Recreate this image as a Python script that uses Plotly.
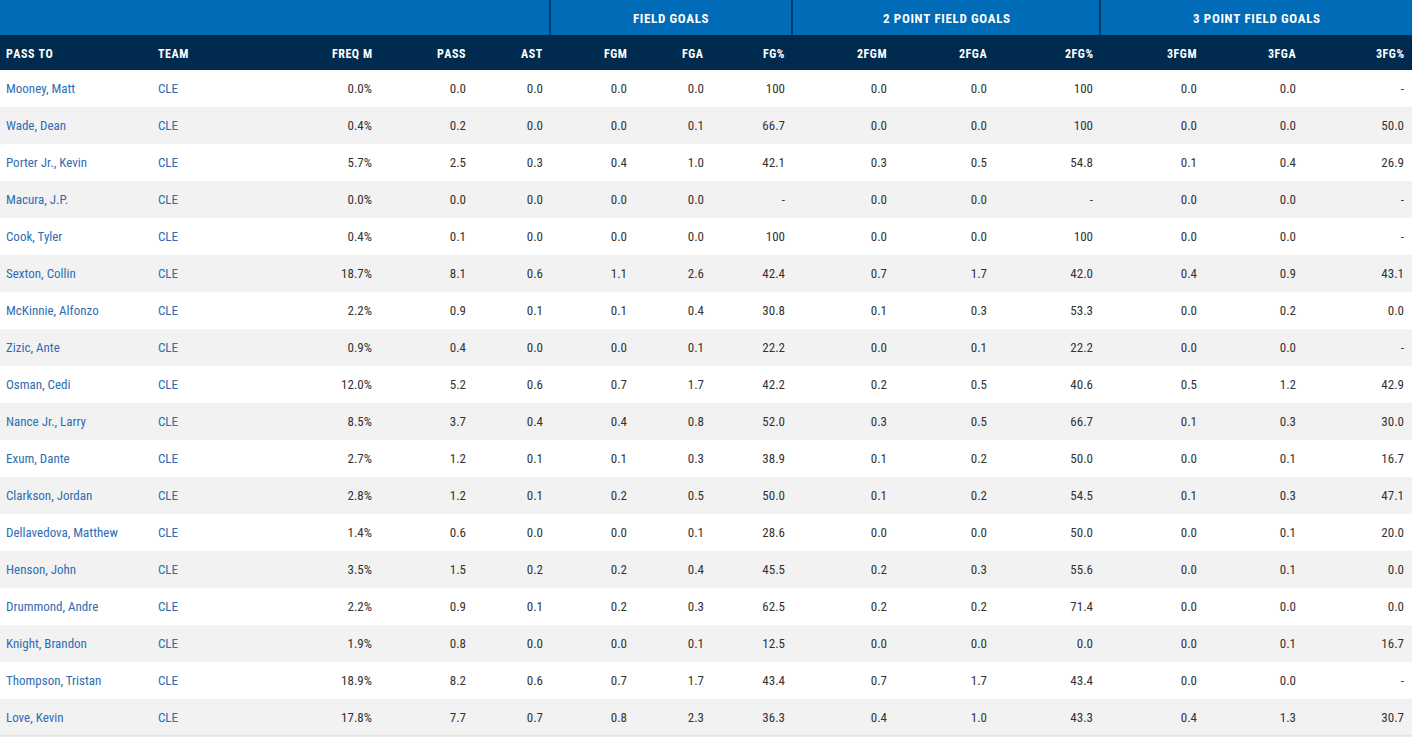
import plotly.graph_objects as go

players = ["Mooney, Matt", "Wade, Dean", "Porter Jr., Kevin", "Macura, J.P.", "Cook, Tyler",
           "Sexton, Collin", "McKinnie, Alfonzo", "Zizic, Ante", "Osman, Cedi", "Nance Jr., Larry",
           "Exum, Dante", "Clarkson, Jordan", "Dellavedova, Matthew", "Henson, John",
           "Drummond, Andre", "Knight, Brandon", "Thompson, Tristan", "Love, Kevin"]
teams = ["CLE"] * 18
freq = [0.0, 0.4, 5.7, 0.0, 0.4, 18.7, 2.2, 0.9, 12.0, 8.5, 2.7, 2.8, 1.4, 3.5, 2.2, 1.9, 18.9, 17.8]
passes = [0.0, 0.2, 2.5, 0.0, 0.1, 8.1, 0.9, 0.4, 5.2, 3.7, 1.2, 1.2, 0.6, 1.5, 0.9, 0.8, 8.2, 7.7]
ast = [0.0, 0.0, 0.3, 0.0, 0.0, 0.6, 0.1, 0.0, 0.6, 0.4, 0.1, 0.1, 0.0, 0.2, 0.1, 0.0, 0.6, 0.7]
fgm = [0.0, 0.0, 0.4, 0.0, 0.0, 1.1, 0.1, 0.0, 0.7, 0.4, 0.1, 0.2, 0.0, 0.2, 0.2, 0.0, 0.7, 0.8]
fga = [0.0, 0.1, 1.0, 0.0, 0.0, 2.6, 0.4, 0.1, 1.7, 0.8, 0.3, 0.5, 0.1, 0.4, 0.3, 0.1, 1.7, 2.3]
fg_pct = [100, 66.7, 42.1, None, 100, 42.4, 30.8, 22.2, 42.2, 52.0, 38.9, 50.0, 28.6, 45.5, 62.5, 12.5, 43.4, 36.3]
fg2m = [0.0, 0.0, 0.3, 0.0, 0.0, 0.7, 0.1, 0.0, 0.2, 0.3, 0.1, 0.1, 0.0, 0.2, 0.2, 0.0, 0.7, 0.4]
fg2a = [0.0, 0.0, 0.5, 0.0, 0.0, 1.7, 0.3, 0.1, 0.5, 0.5, 0.2, 0.2, 0.0, 0.3, 0.2, 0.0, 1.7, 1.0]
fg2_pct = [100, 100, 54.8, None, 100, 42.0, 53.3, 22.2, 40.6, 66.7, 50.0, 54.5, 50.0, 55.6, 71.4, 0.0, 43.4, 43.3]
fg3m = [0.0, 0.0, 0.1, 0.0, 0.0, 0.4, 0.0, 0.0, 0.5, 0.1, 0.0, 0.1, 0.0, 0.0, 0.0, 0.0, 0.0, 0.4]
fg3a = [0.0, 0.0, 0.4, 0.0, 0.0, 0.9, 0.2, 0.0, 1.2, 0.3, 0.1, 0.3, 0.1, 0.1, 0.0, 0.1, 0.0, 1.3]
fg3_pct = [None, 50.0, 26.9, None, None, 43.1, 0.0, None, 42.9, 30.0, 16.7, 47.1, 20.0, 0.0, 0.0, 16.7, None, 30.7]

col_headers = ["PASS TO", "TEAM", "FREQ M", "PASS", "AST", "FGM", "FGA", "FG%",
               "2FGM", "2FGA", "2FG%", "3FGM", "3FGA", "3FG%"]
group_headers = ["", "FIELD GOALS", "2 POINT FIELD GOALS", "3 POINT FIELD GOALS"]

# ---- layout constants (pixels) ----
W, H = 1412, 739
TOP1, TOP2, BODY = 35, 70, 70
ROW_H = 37
TEXT_DY = 1  # text sits 1px below the geometric row centre
N = len(players)
col_anchor = [6, 158, 372, 466, 543, 627, 704, 785, 887, 987, 1093, 1197, 1296, 1404]
col_align = ["left", "left"] + ["right"] * 12
group_edges = [0, 550, 792, 1100, W]

BLUE = "#006bb6"
NAVY = "#002b4e"
STRIPE = "#f2f2f2"
LINK = "#2f6db3"
TXT = "#333333"
FONT = "Roboto Condensed, Roboto, Arial Narrow, sans-serif"


def fmt(v):
    if v is None:
        return "-"
    if v == 100:
        return "100"
    return f"{v:.1f}"


def spaced(s, fs):
    # emulate letter spacing of the header font with tiny hair spaces
    sep = f'<span style="font-size:{fs}px">\u200a</span>'
    return sep.join(s)


columns = [players, teams, [f"{v:.1f}%" for v in freq],
           [fmt(v) for v in passes], [fmt(v) for v in ast],
           [fmt(v) for v in fgm], [fmt(v) for v in fga], [fmt(v) for v in fg_pct],
           [fmt(v) for v in fg2m], [fmt(v) for v in fg2a], [fmt(v) for v in fg2_pct],
           [fmt(v) for v in fg3m], [fmt(v) for v in fg3a], [fmt(v) for v in fg3_pct]]

# y axis in row units: row i text centred at pixel BODY + TEXT_DY + ROW_H*(i+0.5)
off = TEXT_DY / ROW_H
y_top = -(BODY + TEXT_DY) / ROW_H - 0.5
y_bot = (H - BODY - TEXT_DY) / ROW_H - 0.5

fig = go.Figure()
rows = list(range(N))
for ci, vals in enumerate(columns):
    fig.add_trace(go.Scatter(
        x=[col_anchor[ci]] * N, y=rows, text=vals, mode="text",
        textposition="middle right" if col_align[ci] == "left" else "middle left",
        textfont=dict(family=FONT, size=13, color=LINK if ci < 2 else TXT),
        hoverinfo="skip", showlegend=False, cliponaxis=False))

shapes = []
# stripes
for i in rows:
    if i % 2 == 1:
        shapes.append(dict(type="rect", xref="paper", yref="y", x0=0, x1=1,
                           y0=i - 0.5 - off, y1=i + 0.5 - off, fillcolor=STRIPE, line_width=0,
                           layer="below"))
# bottom border
shapes.append(dict(type="line", xref="paper", yref="y", x0=0, x1=1,
                   y0=N - 0.5 - off, y1=N - 0.5 - off,
                   line=dict(color="#d9d9d9", width=1), layer="below"))


def py(p):  # pixel -> paper y
    return 1 - p / H


def px(p):
    return p / W


shapes.append(dict(type="rect", xref="paper", yref="paper", x0=0, x1=1, y0=py(TOP1), y1=1,
                   fillcolor=BLUE, line_width=0, layer="below"))
shapes.append(dict(type="rect", xref="paper", yref="paper", x0=0, x1=1, y0=py(TOP2), y1=py(TOP1),
                   fillcolor=NAVY, line_width=0, layer="below"))
for e in group_edges[1:-1]:
    shapes.append(dict(type="line", xref="paper", yref="paper", x0=px(e), x1=px(e), y0=py(TOP1), y1=1,
                       line=dict(color=NAVY, width=1.5), layer="below"))

annotations = []
for gi, g in enumerate(group_headers):
    if g:
        annotations.append(dict(text=f"<b>{spaced(g, 6)}</b>", xref="paper", yref="paper",
                                x=px((group_edges[gi] + group_edges[gi + 1]) / 2), y=py(TOP1 / 2),
                                xanchor="center", yanchor="middle", showarrow=False, yshift=-1,
                                font=dict(family=FONT, size=13, color="white")))
for ci, h in enumerate(col_headers):
    annotations.append(dict(text=f"<b>{spaced(h, 5)}</b>", xref="x", yref="paper",
                            x=col_anchor[ci], y=py((TOP1 + TOP2) / 2),
                            xanchor=col_align[ci], yanchor="middle", showarrow=False,
                            xshift=-2 if col_align[ci] == "left" else 2, yshift=-2,
                            font=dict(family=FONT, size=12, color="white")))

fig.update_layout(
    width=W, height=H, margin=dict(l=0, r=0, t=0, b=0),
    paper_bgcolor="white", plot_bgcolor="white",
    xaxis=dict(range=[0, W], visible=False, fixedrange=True),
    yaxis=dict(range=[y_bot, y_top], visible=False, fixedrange=True),
    shapes=shapes, annotations=annotations,
)
fig.write_html("out.html", config={"displayModeBar": False},
               post_script="document.body.style.margin='0px';document.body.style.overflow='hidden';")
